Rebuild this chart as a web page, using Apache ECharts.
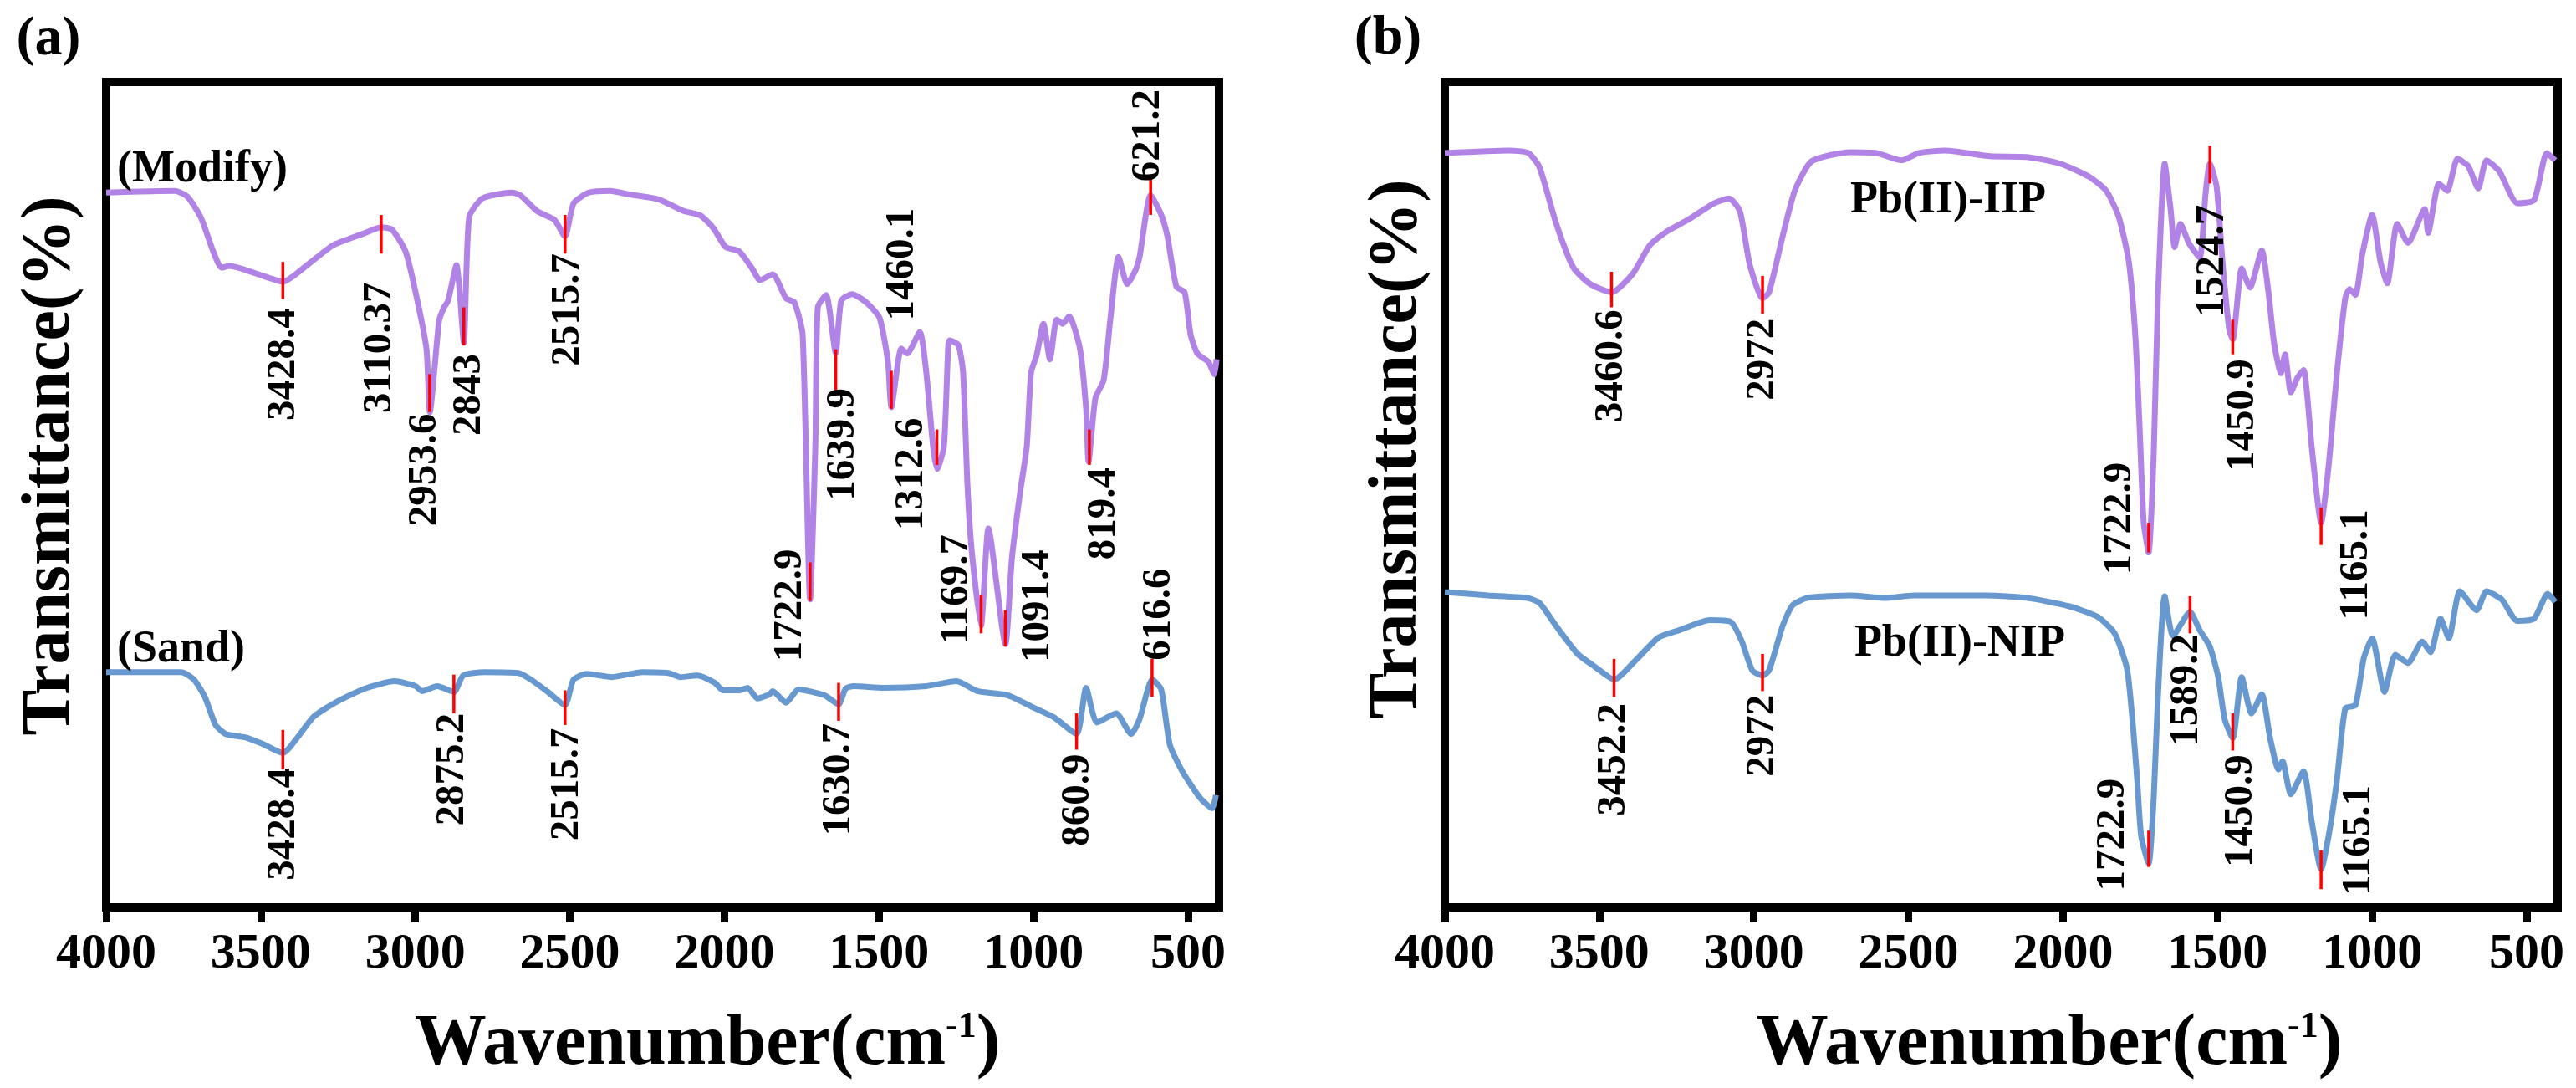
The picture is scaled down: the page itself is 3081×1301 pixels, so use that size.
<!DOCTYPE html>
<html><head><meta charset="utf-8">
<script src="https://cdn.jsdelivr.net/npm/echarts@6/dist/echarts.min.js"></script>
<style>html,body{margin:0;padding:0;background:#fff}#c{width:3081px;height:1301px}</style>
</head><body><div id="c"></div>
<script>
// ---------- data ----------
const xTicks = [4000, 3500, 3000, 2500, 2000, 1500, 1000, 500];

// Panel (a) – Modify (purple)
const modify = [[4000,86.6],[3778,86.8],[3737,86.1],[3694,83.6],[3654,79.5],[3627,77.5],[3600,77.7],[3516,76.8],[3428,75.8],[3350,77.8],[3267,80.2],[3170,81.6],[3110,82.4],[3075,82.1],[3032,79.5],[2999,74.5],[2964,67.7],[2953,60.0],[2923,71.1],[2907,72.7],[2894,73.5],[2867,77.8],[2843,68.4],[2826,83.6],[2783,85.9],[2688,86.6],[2661,86.3],[2604,84.3],[2550,83.3],[2516,81.3],[2488,85.3],[2439,86.6],[2369,86.8],[2312,86.4],[2215,85.8],[2134,84.4],[2077,83.8],[2036,82.3],[1996,80.0],[1953,79.5],[1912,77.5],[1885,76.0],[1844,76.7],[1801,73.8],[1774,73.3],[1747,69.4],[1723,37.3],[1706,55.8],[1698,72.7],[1671,74.2],[1640,67.2],[1622,73.5],[1587,74.3],[1538,73.2],[1498,71.4],[1471,66.1],[1460,60.6],[1428,67.7],[1409,67.1],[1368,69.7],[1347,64.8],[1325,55.8],[1312,53.1],[1290,55.8],[1276,68.1],[1271,68.7],[1243,68.1],[1228,64.8],[1214,51.3],[1200,43.2],[1170,34.1],[1146,45.9],[1091,31.9],[1070,42.3],[1043,50.4],[1022,55.8],[1008,64.8],[990,66.9],[968,70.7],[947,66.4],[925,71.2],[906,70.7],[885,71.6],[850,67.7],[830,60.4],[822,54.0],[800,61.7],[773,63.9],[752,71.1],[725,78.8],[697,75.5],[670,77.2],[657,78.8],[621,86.3],[587,83.9],[567,81.3],[538,75.2],[511,74.5],[492,69.4],[470,67.1],[435,66.1],[415,64.6],[408,66.4]];

// Panel (a) – Sand (blue)
const sand = [[4000,28.5],[3757,28.5],[3716,27.6],[3681,25.5],[3646,22.1],[3613,21.0],[3551,20.6],[3494,19.8],[3428,18.7],[3383,20.5],[3329,23.1],[3259,24.8],[3164,26.5],[3067,27.4],[2999,26.8],[2978,26.2],[2929,26.8],[2875,26.1],[2845,28.1],[2777,28.5],[2667,28.4],[2626,27.6],[2571,26.1],[2516,24.5],[2488,27.6],[2445,28.3],[2364,27.9],[2266,28.5],[2182,28.4],[2142,27.9],[2088,28.1],[2031,27.2],[2004,26.3],[1950,26.3],[1925,26.6],[1893,25.3],[1855,25.8],[1844,26.2],[1801,24.8],[1760,26.4],[1677,25.7],[1631,24.6],[1608,26.5],[1582,26.8],[1485,26.6],[1347,26.8],[1249,27.4],[1182,26.2],[1084,25.7],[1000,24.2],[933,23.0],[861,21.0],[830,26.6],[795,22.4],[733,23.5],[684,21.0],[657,22.8],[616,27.6],[587,26.4],[559,19.7],[519,16.5],[462,13.3],[422,12.0],[410,13.6]];

// Panel (b) – Pb(II)-IIP (purple)
const iip = [[4000,91.4],[3792,91.7],[3730,91.4],[3694,89.7],[3640,82.9],[3584,77.5],[3529,75.5],[3460,74.5],[3391,76.8],[3337,80.2],[3281,81.9],[3213,83.3],[3129,85.3],[3080,85.9],[3045,84.3],[3013,77.8],[2972,73.8],[2951,74.5],[2907,81.3],[2867,86.9],[2813,90.4],[2688,91.5],[2604,91.4],[2523,90.5],[2466,91.4],[2382,91.7],[2236,91.0],[2117,90.9],[2009,90.1],[1915,88.5],[1860,86.8],[1820,83.7],[1787,78.2],[1766,69.2],[1752,58.0],[1739,46.6],[1723,43.0],[1706,55.6],[1693,73.8],[1671,90.1],[1652,84.6],[1639,80.0],[1620,82.8],[1593,80.5],[1558,78.7],[1539,86.4],[1525,90.1],[1503,87.3],[1484,78.2],[1463,70.1],[1451,68.8],[1422,77.4],[1395,75.1],[1357,79.6],[1336,74.7],[1317,68.3],[1295,64.7],[1282,67.0],[1263,62.4],[1241,64.2],[1222,65.1],[1195,55.6],[1165,46.6],[1141,53.4],[1114,64.7],[1087,73.8],[1073,74.9],[1054,74.2],[1032,79.1],[1000,83.9],[973,78.2],[951,75.6],[919,82.8],[884,80.5],[830,84.6],[819,81.7],[784,87.7],[757,86.8],[724,90.7],[689,89.8],[657,87.1],[630,90.5],[589,89.2],[530,85.3],[476,85.7],[435,91.4],[408,90.5]];

// Panel (b) – Pb(II)-NIP (blue)
const nip = [[4000,38.2],[3860,37.8],[3735,37.5],[3694,36.9],[3640,34.1],[3570,30.7],[3516,29.2],[3452,27.6],[3378,30.1],[3308,32.7],[3240,33.6],[3143,34.8],[3075,34.6],[3040,32.3],[3005,28.7],[2972,28.1],[2951,28.7],[2907,34.1],[2875,36.6],[2826,37.5],[2688,37.8],[2577,37.5],[2480,37.8],[2250,37.8],[2117,37.5],[1982,36.5],[1888,35.2],[1833,33.2],[1793,28.9],[1774,22.1],[1760,15.4],[1747,8.6],[1723,5.3],[1706,13.7],[1693,25.5],[1671,37.7],[1644,32.9],[1589,35.8],[1558,33.6],[1525,31.6],[1498,27.9],[1477,22.8],[1451,20.5],[1422,27.9],[1390,23.5],[1357,25.8],[1330,20.5],[1303,16.7],[1290,17.7],[1263,13.7],[1222,16.5],[1195,10.3],[1165,4.6],[1141,8.6],[1114,15.4],[1087,24.1],[1054,24.5],[1027,30.2],[1000,32.6],[960,26.1],[925,30.6],[884,29.6],[838,32.2],[811,30.9],[779,35.0],[752,32.6],[716,38.3],[662,36.0],[630,38.3],[581,37.3],[530,34.7],[476,35.0],[432,38.0],[408,37.0]];

// peak annotations: [label, peak wavenumber, mark top, mark bottom, label wavenumber, label value]
const modifyPeaks = [
 ['3428.4',3428.4,78.2,73.7,3427,65.8],
 ['3110.37',3110.37,83.9,79.2,3115,67.8],
 ['2953.6',2953.6,64.6,60.0,2969,53.0],
 ['2843',2843,72.7,68.1,2826,62.1],
 ['2515.7',2515.7,83.9,79.2,2507,72.4],
 ['1722.9',1722.9,41.8,37.1,1787,36.6],
 ['1639.9',1639.9,67.6,62.6,1617,56.1],
 ['1460.1',1460.1,65.0,60.4,1425,77.9],
 ['1312.6',1312.6,57.9,53.6,1395,52.5],
 ['1169.7',1169.7,37.8,33.2,1249,38.5],
 ['1091.4',1091.4,36.0,31.6,987,36.5],
 ['819.4',819.4,57.9,53.6,773,47.7],
 ['621.2',621.2,88.4,83.9,630,93.5]
];
const sandPeaks = [
 ['3428.4',3428.4,21.5,16.7,3427,10.1],
 ['2875.2',2875.2,28.2,23.5,2880,16.7],
 ['2515.7',2515.7,26.3,22.1,2510,14.9],
 ['1630.7',1630.7,27.2,22.6,1631,15.5],
 ['860.9',860.9,23.5,19.1,857,13.0],
 ['616.6',616.6,30.1,25.5,595,35.5]
];
const iipPeaks = [
 ['3460.6',3460.6,77.0,72.7,3462,65.6],
 ['2972',2972,76.5,71.9,2972,66.4],
 ['1722.9',1722.9,46.6,43.0,1817,47.1],
 ['1524.7',1524.7,92.3,87.7,1517,78.3],
 ['1450.9',1450.9,71.2,67.0,1420,59.6],
 ['1165.1',1165.1,48.4,43.9,1052,41.5]
];
const nipPeaks = [
 ['3452.2',3452.2,30.1,25.5,3454,17.9],
 ['2972',2972,30.7,26.2,2972,20.8],
 ['1722.9',1722.9,9.3,4.9,1839,8.8],
 ['1589.2',1589.2,37.7,33.2,1601,26.3],
 ['1450.9',1450.9,23.5,19.0,1425,11.7],
 ['1165.1',1165.1,6.9,2.2,1044,8.1]
];
// curve names: [text, wavenumber (left edge), value, panel]
const curveNames = [['(Modify)',3965,89.4,0],['(Sand)',3965,31.2,0],['Pb(II)-IIP',2688,85.6,1],['Pb(II)-NIP',2675,31.9,1]];

// ---------- chart ----------
const FF = '"Liberation Serif","Times New Roman",serif';
const PURPLE = '#B283E6', BLUE = '#6898D0';
const chart = echarts.init(document.getElementById('c'));

function xAxisCfg(i){
  return {gridIndex:i, type:'value', min:400, max:4000, inverse:true,
    axisLine:{show:false},
    axisTick:{show:true, customValues:xTicks, length:18, lineStyle:{color:'#000', width:9}},
    axisLabel:{customValues:xTicks, formatter:function(v){return String(v);}, fontFamily:FF, fontWeight:'bold', fontSize:60, color:'#000', margin:26},
    splitLine:{show:false}};
}
function yAxisCfg(i){ return {gridIndex:i, type:'value', min:0, max:100, show:false}; }
function curve(data, i, color){
  return {type:'line', xAxisIndex:i, yAxisIndex:i, data:data, showSymbol:false, smooth:0.2,
    lineStyle:{color:color, width:7}, itemStyle:{color:color}, silent:true, animation:false, z:3};
}
function peaks(list, i){
  return {type:'custom', xAxisIndex:i, yAxisIndex:i, z:10, silent:true, animation:false, clip:false,
    data:list.map(p=>[p[4],p[5]]),
    renderItem:function(params, api){
      const p = list[params.dataIndex];
      const t = api.coord([p[1], p[2]]), b = api.coord([p[1], p[3]]), l = api.coord([p[4], p[5]]);
      return {type:'group', children:[
        {type:'line', shape:{x1:t[0], y1:t[1], x2:b[0], y2:b[1]}, style:{stroke:'#ff0000', lineWidth:3.5}},
        {type:'text', x:l[0], y:l[1], rotation:Math.PI/2,
          style:{text:p[0], fill:'#000', font:'bold 49px '+FF, align:'center', verticalAlign:'middle'}}
      ]};
    }};
}
function names(i){
  const list = curveNames.filter(c=>c[3]===i);
  return {type:'custom', xAxisIndex:i, yAxisIndex:i, z:11, silent:true, animation:false, clip:false,
    data:list.map(c=>[c[1],c[2]]),
    renderItem:function(params, api){
      const c = list[params.dataIndex];
      const pt = api.coord([c[1], c[2]]);
      return {type:'text', x:pt[0], y:pt[1],
        style:{text:c[0], fill:'#000', font:'bold 54px '+FF, align:'left', verticalAlign:'middle'}};
    }};
}
function xTitle(x){
  return {type:'text', x:x, y:1250, style:{text:'Wavenumber(cm{s|-1})', fill:'#000', font:'bold 86px '+FF,
    align:'center', verticalAlign:'middle',
    rich:{s:{fontSize:44, fontWeight:'bold', fontFamily:FF, verticalAlign:'top', fill:'#000'}}}};
}
function yTitle(x, y){
  return {type:'text', x:x, y:y, rotation:Math.PI/2, style:{text:'Transmittance(%)', fill:'#000',
    font:'bold 82px '+FF, align:'center', verticalAlign:'middle'}};
}

chart.setOption({
  animation:false,
  backgroundColor:'#fff',
  grid:[
    {left:127, right:1623, top:98, bottom:216, show:true, borderColor:'#000', borderWidth:10, backgroundColor:'transparent'},
    {left:1728, right:22, top:98, bottom:216, show:true, borderColor:'#000', borderWidth:10, backgroundColor:'transparent'}
  ],
  xAxis:[xAxisCfg(0), xAxisCfg(1)],
  yAxis:[yAxisCfg(0), yAxisCfg(1)],
  series:[
    curve(modify,0,PURPLE), curve(sand,0,BLUE), curve(iip,1,PURPLE), curve(nip,1,BLUE),
    peaks(modifyPeaks,0), peaks(sandPeaks,0), peaks(iipPeaks,1), peaks(nipPeaks,1),
    names(0), names(1)
  ],
  graphic:[
    {type:'text', x:58, y:48, style:{text:'(a)', fill:'#000', font:'bold 66px '+FF, align:'center', verticalAlign:'middle'}},
    {type:'text', x:1660, y:47, style:{text:'(b)', fill:'#000', font:'bold 66px '+FF, align:'center', verticalAlign:'middle'}},
    xTitle(846), xTitle(2451),
    yTitle(61, 557), yTitle(1672, 537)
  ]
});
</script></body></html>
